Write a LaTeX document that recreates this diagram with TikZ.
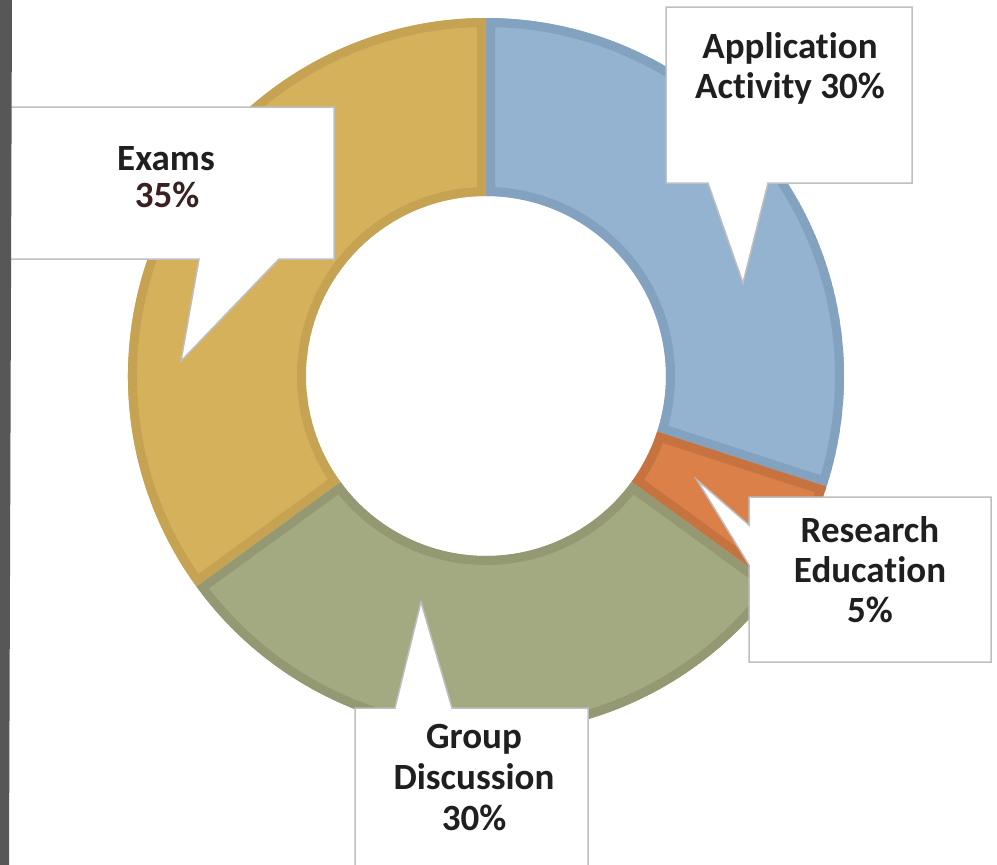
\documentclass[tikz,border=0pt]{standalone}
\usepackage{fontspec}
\setmainfont{Carlito}[Ligatures=NoCommon]
\usetikzlibrary{calc}
\definecolor{bluefill}{HTML}{94B3D1}
\definecolor{blueline}{HTML}{83A2BF}
\definecolor{orfill}{HTML}{DA8048}
\definecolor{orline}{HTML}{C67340}
\definecolor{grfill}{HTML}{A3AA81}
\definecolor{grline}{HTML}{949973}
\definecolor{yefill}{HTML}{D6B15C}
\definecolor{yeline}{HTML}{C6A352}
\definecolor{boxline}{HTML}{BFBFBF}
\definecolor{txt}{HTML}{1F1F1F}
\definecolor{pct}{HTML}{3B2121}
\definecolor{strip}{HTML}{575757}
\newcommand{\seg}[4]{% start, end, fill, line
  \begin{scope}
    \clip (486,376) ++(#1:358) arc[start angle=#1,end angle=#2,radius=358]
      -- ($(486,376)+(#2:180)$) arc[start angle=#2,end angle=#1,radius=180] -- cycle;
    \fill[#3] (486,376) ++(#1:358) arc[start angle=#1,end angle=#2,radius=358]
      -- ($(486,376)+(#2:180)$) arc[start angle=#2,end angle=#1,radius=180] -- cycle;
    \draw[#4,line width=18pt,line join=miter] (486,376) ++(#1:358) arc[start angle=#1,end angle=#2,radius=358]
      -- ($(486,376)+(#2:180)$) arc[start angle=#2,end angle=#1,radius=180] -- cycle;
  \end{scope}}
\tikzset{
  callout/.style={fill=white,draw=boxline,line width=1.5pt,line join=miter},
  lbl/.style={text=txt,font=\fontsize{37}{40}\selectfont\bfseries,align=center,inner sep=0pt}
}
\begin{document}
\begin{tikzpicture}[x=1pt,y=-1pt]
\useasboundingbox (0,0) rectangle (997,865);
\fill[white] (0,0) rectangle (997,865);
% donut segments (angles clockwise from +x, screen)
\seg{-90}{18}{bluefill}{blueline}
\seg{18}{36}{orfill}{orline}
\seg{36}{144}{grfill}{grline}
\seg{144}{270}{yefill}{yeline}
% callouts
\draw[callout] (4,107) -- (334,107) -- (334,259) -- (279,259) -- (181,361) -- (199,259) -- (4,259) -- cycle;
\draw[callout] (666,7) -- (912,7) -- (912,183) -- (768,183) -- (743,283) -- (708,183) -- (666,183) -- cycle;
\draw[callout] (749,497) -- (991,497) -- (991,662) -- (749,662) -- (749,565) -- (697,480) -- (749,525) -- cycle;
\draw[callout] (355,708) -- (395,708) -- (421,602) -- (452,708) -- (588,708) -- (588,880) -- (355,880) -- cycle;
% labels
\node[lbl,anchor=base] (exams) at (166,170) {Exams};
\node[lbl,anchor=base,text=pct] (examsp) at (167,207) {35\%};
\node[lbl,anchor=base] (app1) at (790,58) {Application};
\node[lbl,anchor=base] (app2) at (790,98) {Activity 30\%};
\node[lbl,anchor=base] (res1) at (870,542) {Research};
\node[lbl,anchor=base] (res2) at (870,582) {Education};
\node[lbl,anchor=base] (res3) at (870,622) {5\%};
\node[lbl,anchor=base] (grp1) at (474,748) {Group};
\node[lbl,anchor=base] (grp2) at (474,789) {Discussion};
\node[lbl,anchor=base] (grp3) at (474,830) {30\%};
% left dark strip
\fill[strip] (0,0) -- (12,0) -- (9,865) -- (0,865) -- cycle;
\end{tikzpicture}
\end{document}
